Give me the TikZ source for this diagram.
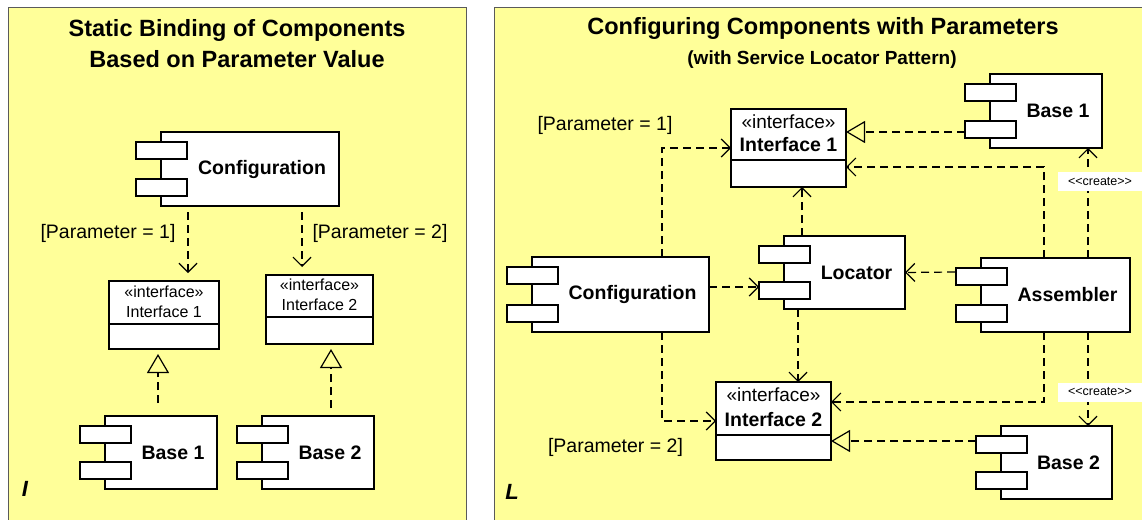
\documentclass[tikz,border=0pt]{standalone}
\usepackage{fontspec}
\setmainfont{Liberation Sans}
\usetikzlibrary{arrows.meta,calc}
\definecolor{panelyellow}{RGB}{255,255,153}
\definecolor{panelborder}{RGB}{90,90,90}
\newcommand{\comptabs}[1]{%
  \draw[tabbox] ($(#1.north west)+(-25,10)$) rectangle ($(#1.north west)+(26,27)$);
  \draw[tabbox] ($(#1.south west)+(-25,-27)$) rectangle ($(#1.south west)+(26,-10)$);}
\tikzset{
  panel/.style={draw=panelborder, fill=panelyellow, line width=1pt},
  comp/.style={draw, fill=white, line width=1.3pt, inner sep=0pt, outer sep=0pt,
    font=\fontsize{19.5}{22}\selectfont\bfseries},
  tabbox/.style={draw, fill=white, line width=1.3pt},
  iface/.style={draw, fill=white, line width=1.3pt, inner sep=0pt, outer sep=0pt},
  divider/.style={line width=1.3pt},
  stereoL/.style={font=\fontsize{16}{18}\selectfont, inner sep=0pt},
  stereoR/.style={font=\fontsize{19}{21}\selectfont, inner sep=0pt},
  inameR/.style={font=\fontsize{19.5}{21}\selectfont\bfseries, inner sep=0pt},
  dep/.style={line width=1.2pt, dash pattern=on 8pt off 5pt,
    -{Straight Barb[length=9pt,width=18pt]}},
  real/.style={line width=1.2pt, dash pattern=on 8pt off 5pt,
    -{Triangle[open,length=19pt,width=22pt]}},
  param/.style={font=\fontsize{19.5}{22}\selectfont, inner sep=0pt},
  title/.style={font=\fontsize{23.5}{31}\selectfont\bfseries, align=center, inner sep=0pt},
  subtitle/.style={font=\fontsize{19}{22}\selectfont\bfseries, inner sep=0pt},
  createlbl/.style={fill=white, inner sep=0pt, minimum width=84pt, minimum height=19pt,
    font=\fontsize{12.5}{13}\selectfont},
  corner/.style={font=\fontsize{22}{24}\selectfont\bfseries\itshape, inner sep=0pt}
}
\begin{document}
\begin{tikzpicture}[x=1pt,y=-1pt]
\useasboundingbox (0,0) rectangle (1142,519);
\clip (0,0) rectangle (1142,519);
\fill[white] (0,0) rectangle (1142,519);
% panels
\draw[panel] (8,8) rectangle (466,540);
\draw[panel] (494,8) rectangle (1170,540);

% ---------------- left panel ----------------
\node[title] (tL) at (237,43.5) {Static Binding of Components\\Based on Parameter Value};

\node[comp, minimum width=178pt, minimum height=74pt] (cfgL) at (250,169) {\hspace*{24pt}Configuration};
\comptabs{cfgL}

\node[iface, minimum width=110pt, minimum height=68pt] (i1L) at (164,315) {};
\draw[divider] ($(i1L.north west)+(0,43)$) -- ($(i1L.north east)+(0,43)$);
\node[stereoL] (i1Ls) at (164,292) {«interface»};
\node[stereoL] (i1Ln) at (164,312) {Interface 1};

\node[iface, minimum width=107pt, minimum height=69pt] (i2L) at (319.5,309.5) {};
\draw[divider] ($(i2L.north west)+(0,42)$) -- ($(i2L.north east)+(0,42)$);
\node[stereoL] (i2Ls) at (319.5,285) {«interface»};
\node[stereoL] (i2Ln) at (319.5,305) {Interface 2};

\node[comp, minimum width=112pt, minimum height=73pt] (b1L) at (161,452.5) {\hspace*{24pt}Base 1};
\comptabs{b1L}
\node[comp, minimum width=112pt, minimum height=73pt] (b2L) at (318,452.5) {\hspace*{24pt}Base 2};
\comptabs{b2L}

\draw[dep] ($(cfgL.south)+(-62,6)$) -- ($(i1L.north)+(24,-8)$);
\draw[dep] ($(cfgL.south)+(52,6)$) -- ($(i2L.north)+(-17.5,-8)$);
\draw[real] ($(b1L.north)+(-3,-13)$) -- ($(i1L.south)+(-6,5)$);
\draw[real] ($(b2L.north)+(13,-8)$) -- ($(i2L.south)+(11.5,5)$);

\node[param] (p1L) at (108,233) {[Parameter = 1]};
\node[param] (p2L) at (380,233) {[Parameter = 2]};
\node[corner] (cI) at (25,489) {I};

% ---------------- right panel ----------------
\node[title] (tR) at (823,28) {Configuring Components with Parameters};
\node[subtitle] (sR) at (822,60) {(with Service Locator Pattern)};

\node[iface, minimum width=115pt, minimum height=78pt] (i1R) at (788.5,148) {};
\draw[divider] ($(i1R.north west)+(0,51)$) -- ($(i1R.north east)+(0,51)$);
\node[stereoR] (i1Rs) at (788.5,122) {«interface»};
\node[inameR] (i1Rn) at (788.5,145) {Interface 1};

\node[iface, minimum width=115pt, minimum height=78pt] (i2R) at (773.5,421) {};
\draw[divider] ($(i2R.north west)+(0,53)$) -- ($(i2R.north east)+(0,53)$);
\node[stereoR] (i2Rs) at (773.5,395) {«interface»};
\node[inameR] (i2Rn) at (773.5,420) {Interface 2};

\node[comp, minimum width=112pt, minimum height=74pt] (b1R) at (1046,111) {\hspace*{24pt}Base 1};
\comptabs{b1R}
\node[comp, minimum width=177pt, minimum height=75pt] (cfgR) at (620.5,294.5) {\hspace*{24pt}Configuration};
\comptabs{cfgR}
\node[comp, minimum width=121pt, minimum height=73pt] (locR) at (844.5,272.5) {\hspace*{24pt}Locator};
\comptabs{locR}
\node[comp, minimum width=149pt, minimum height=74pt] (asm) at (1055.5,295) {\hspace*{24pt}Assembler};
\comptabs{asm}
\node[comp, minimum width=111pt, minimum height=73pt] (b2R) at (1056.5,462.5) {\hspace*{24pt}Base 2};
\comptabs{b2R}

\draw[dep] ($(cfgR.north)+(41.5,0)$) |- (i1R.west);
\draw[dep] (cfgR.east |- 0,287) -- ($(locR.west)+(-25,14.5)$);
\draw[dep] ($(cfgR.south)+(41.5,0)$) |- (i2R.west);
\draw[dep] ($(locR.north)+(-42.5,0)$) -- ($(i1R.south)+(13.5,0)$);
\draw[dep] ($(locR.south)+(-46.5,0)$) -- ($(i2R.north)+(24.5,0)$);
\draw[dep] ($(asm.west)+(-26,-23)$) -- (locR.east);
\draw[dep] ($(asm.north)+(-11.5,0)$) |- ($(i1R.east)+(0,19)$);
\draw[dep] ($(asm.south)+(-11.5,0)$) |- ($(i2R.east)+(0,-19)$);
\draw[dep] ($(asm.north)+(32.5,0)$) -- ($(b1R.south)+(42,0)$);
\draw[dep] ($(asm.south)+(32.5,0)$) -- ($(b2R.north)+(31.5,0)$);
\draw[real] ($(b1R.west)+(-25,21)$) -- ($(i1R.east)+(0,-16)$);
\draw[real] ($(b2R.west)+(-25,-21.5)$) -- ($(i2R.east)+(0,20)$);

\node[createlbl] (c1) at (1100,181.5) {<{}<create>{}>};
\node[createlbl] (c2) at (1100,392) {<{}<create>{}>};

\node[param] (p1R) at (605,125) {[Parameter = 1]};
\node[param] (p2R) at (615.5,447) {[Parameter = 2]};
\node[corner] (cL) at (512,492) {L};
\end{tikzpicture}
\end{document}
